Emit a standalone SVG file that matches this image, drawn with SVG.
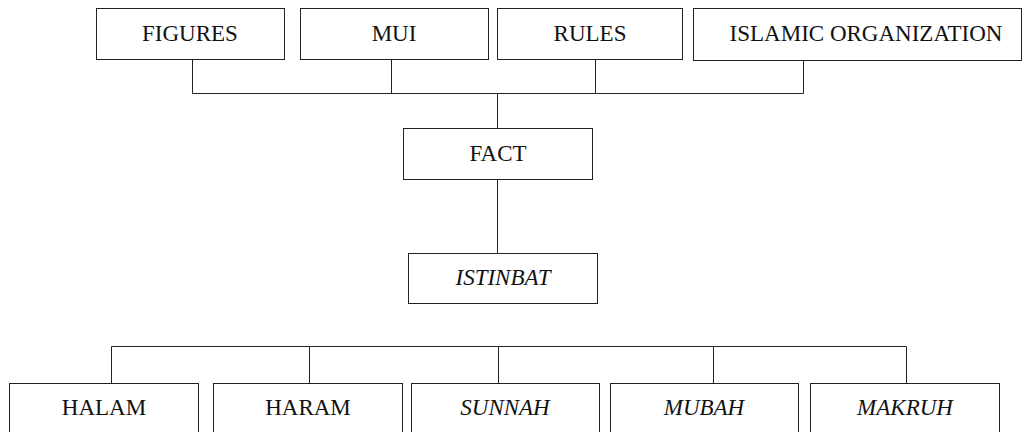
<svg xmlns="http://www.w3.org/2000/svg" width="1022" height="432" viewBox="0 0 1022 432">
<style>
.box{fill:#fff;stroke:#222;stroke-width:1}
.t{font-family:"Liberation Serif","Times New Roman",serif;font-size:23px;fill:#111;text-anchor:middle}
.i{font-style:italic}
.c{fill:none;stroke:#222;stroke-width:1}
</style>
<rect width="1022" height="432" fill="#fff"/>
<g id="connectors">
<path class="c" d="M192.5 59V93.5H803.5V60M391.5 59V93.5M595.5 59V93.5M497.5 93.5V128"/>
<path class="c" d="M497.5 179V253"/>
<path class="c" d="M111.5 383V346.5H906.5V383M309.5 346.5V383M498.5 346.5V383M713.5 346.5V383"/>
</g>
<g id="figures"><rect class="box" x="96.5" y="8.5" width="188" height="51"/><text class="t" x="190" y="41">FIGURES</text></g>
<g id="mui"><rect class="box" x="300.5" y="8.5" width="188" height="51"/><text class="t" x="394" y="41">MUI</text></g>
<g id="rules"><rect class="box" x="497.5" y="8.5" width="185" height="51"/><text class="t" x="590" y="41">RULES</text></g>
<g id="islamic-organization"><rect class="box" x="693.5" y="8.5" width="328" height="52"/><text class="t" x="866" y="41">ISLAMIC ORGANIZATION</text></g>
<g id="fact"><rect class="box" x="403.5" y="128.5" width="189" height="51"/><text class="t" x="498" y="161">FACT</text></g>
<g id="istinbat"><rect class="box" x="408.5" y="253.5" width="189" height="50"/><text class="t i" x="503" y="285">ISTINBAT</text></g>
<g id="halam"><rect class="box" x="9.5" y="383.5" width="189" height="52"/><text class="t" x="104" y="415">HALAM</text></g>
<g id="haram"><rect class="box" x="213.5" y="383.5" width="189" height="52"/><text class="t" x="308" y="415">HARAM</text></g>
<g id="sunnah"><rect class="box" x="411.5" y="383.5" width="188" height="52"/><text class="t i" x="505" y="415">SUNNAH</text></g>
<g id="mubah"><rect class="box" x="610.5" y="383.5" width="188" height="52"/><text class="t i" x="704" y="415">MUBAH</text></g>
<g id="makruh"><rect class="box" x="810.5" y="383.5" width="189" height="52"/><text class="t i" x="905" y="415">MAKRUH</text></g>
</svg>
